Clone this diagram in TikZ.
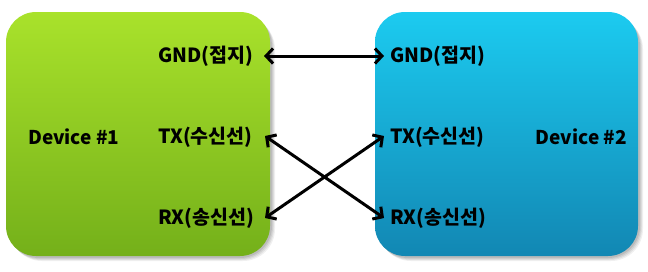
\documentclass[tikz,border=0pt]{standalone}
\usepackage{fontspec}
\setmainfont{Noto Sans CJK KR}
\usetikzlibrary{arrows.meta}
\definecolor{gTop}{HTML}{A9E22B}
\definecolor{gBot}{HTML}{74B01A}
\definecolor{bTop}{HTML}{1CCBF0}
\definecolor{bBot}{HTML}{1287B3}
\tikzset{
  devbox/.style={rounded corners=30pt, draw=none},
  lbl/.style={font=\bfseries\fontsize{19.5}{22}\selectfont, inner sep=0pt, anchor=west, text=black},
  dev/.style={font=\bfseries\fontsize{19}{22}\selectfont, inner sep=0pt, text=black},
  link/.style={line width=3pt, {Straight Barb[length=7pt,width=15pt,line width=3pt]}-{Straight Barb[length=7pt,width=15pt,line width=3pt]}, black}
}
\begin{document}
\begin{tikzpicture}[x=1pt,y=-1pt]
\useasboundingbox (0,0) rectangle (648,271);
% soft shadows
\foreach \d/\o in {5/0.06,4/0.07,3/0.08,2/0.09}{
  \fill[black,opacity=\o,rounded corners=32pt] (6+\d-1,12+\d) rectangle (270+\d,256+\d);
  \fill[black,opacity=\o,rounded corners=32pt] (375+\d-1,12+\d) rectangle (638+\d,256+\d);
}
\shade[devbox, top color=gTop, bottom color=gBot] (6,12) rectangle (270,256);
\shade[devbox, top color=bTop, bottom color=bBot] (375,12) rectangle (638,256);
\node[dev, anchor=west] (d1) at (28,137) {Device \#1};
\node[dev, anchor=east] (d2) at (627,137) {Device \#2};
\node[lbl] (gl) at (158,56) {GND(접지)};
\node[lbl] (tl) at (158,137) {TX(수신선)};
\node[lbl] (rl) at (158,218) {RX(송신선)};
\node[lbl] (gr) at (390,56) {GND(접지)};
\node[lbl] (tr) at (390,137) {TX(수신선)};
\node[lbl] (rr) at (390,218) {RX(송신선)};
\coordinate (pgl) at (264,56);
\coordinate (ptl) at (265,136);
\coordinate (prl) at (265,218);
\coordinate (pgr) at (384,56);
\coordinate (ptr) at (384,136);
\coordinate (prr) at (384,218);
\draw[link] (pgl) -- (pgr);
\draw[link] (ptl) -- (prr);
\draw[link] (prl) -- (ptr);
\end{tikzpicture}
\end{document}
